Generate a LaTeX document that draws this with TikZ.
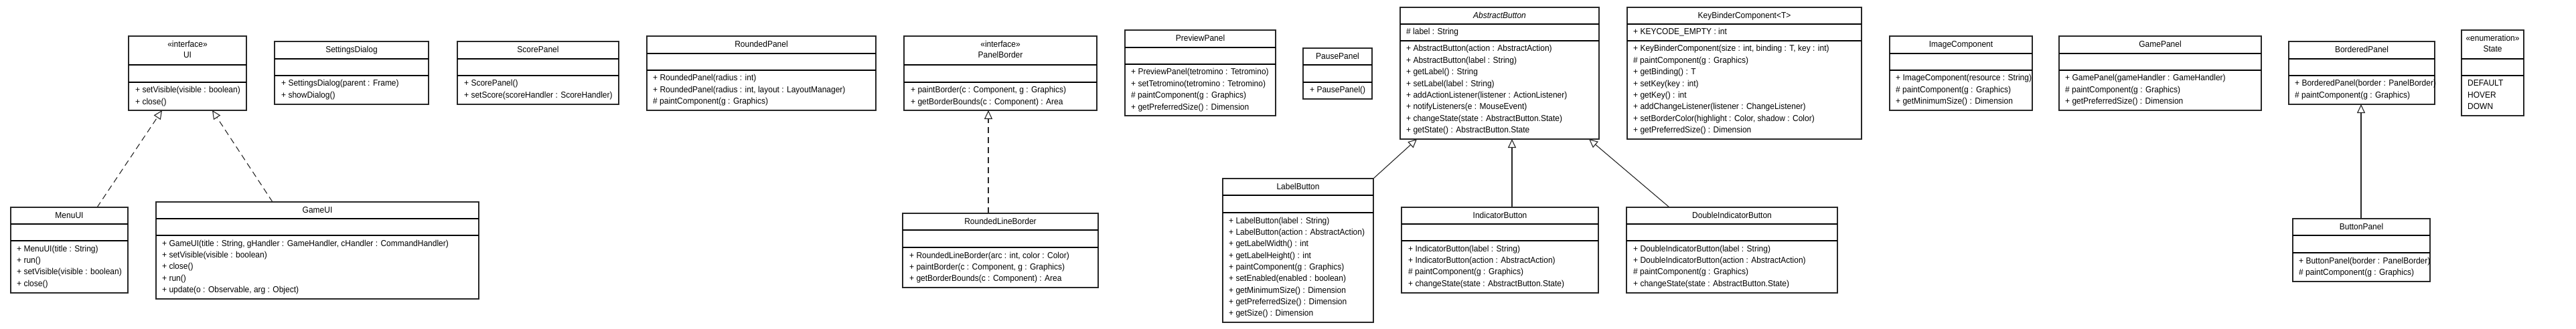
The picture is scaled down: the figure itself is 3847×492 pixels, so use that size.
\documentclass[tikz,border=0pt]{standalone}
\usepackage{fontspec}
\setmainfont[FakeStretch=0.93]{Liberation Sans}
\usetikzlibrary{arrows.meta,calc}
\tikzset{
  box/.style={draw=black!85, line width=1.5pt, inner sep=0pt, outer sep=0pt, fill=white},
  divl/.style={draw=black, line width=1.5pt},
  ttl/.style={font=\fontsize{12.9}{15}\selectfont, inner sep=0pt, anchor=base},
  mem/.style={font=\fontsize{12.9}{15}\selectfont, inner sep=0pt, anchor=base west},
  gen/.style={draw=black!85, line width=1.1pt, -{Triangle[open, length=13pt, width=12pt]}},
  real/.style={gen, dash pattern=on 9pt off 6pt},
}
% name, x1, y1, x2, y2, d1, d2
\newcommand\classbox[7]{%
  \node[box, minimum width={#4-#2}, minimum height={#5-#3}, anchor=north west] (#1) at (#2,#3) {};
  \draw[divl] (#2,#6) -- (#4,#6);
  \draw[divl] (#2,#7) -- (#4,#7);
}
% name, x1, x2, y1, d1, text
\newcommand\ctitle[6]{\node[ttl] (#1-t) at ({(#2+#3)/2},{(#4+#5)/2+4}) {#6};}
% name, x1, x2, y1, d1, stereo, text
\newcommand\stitle[7]{%
  \node[ttl] (#1-s) at ({(#2+#3)/2},{(#4+#5)/2-8.5+4}) {#6};
  \node[ttl] (#1-t) at ({(#2+#3)/2},{(#4+#5)/2+7.5+4}) {#7};
}
% name, x, divider y, list
\newcommand\members[4]{\foreach \s [count=\i] in {#4} {\node[mem] (#1-\i) at (#2,{#3+16+(\i-1)*17.35}) {\s};}}

\begin{document}
\begin{tikzpicture}[x=1pt,y=-1pt]
\fill[white] (0,0) rectangle (3847,492);
\useasboundingbox (0,0) rectangle (3847,492);

% UI
\classbox{ui}{192}{54}{368}{165}{97}{123}
\stitle{ui}{192}{368}{54}{97}{«interface»}{UI}
\members{ui-m}{202}{123}{{+ setVisible(visible : boolean)},{+ close()}}

% SettingsDialog
\classbox{sd}{410}{62}{640}{156}{88}{113}
\ctitle{sd}{410}{640}{62}{88}{SettingsDialog}
\members{sd-m}{420}{113}{{+ SettingsDialog(parent : Frame)},{+ showDialog()}}

% ScorePanel
\classbox{sp}{683}{62}{924}{156}{88}{113}
\ctitle{sp}{683}{924}{62}{88}{ScorePanel}
\members{sp-m}{693}{113}{{+ ScorePanel()},{+ setScore(scoreHandler : ScoreHandler)}}

% RoundedPanel
\classbox{rp}{966}{54}{1308}{165}{80}{105}
\ctitle{rp}{966}{1308}{54}{80}{RoundedPanel}
\members{rp-m}{975}{105}{{+ RoundedPanel(radius : int)},{+ RoundedPanel(radius : int, layout : LayoutManager)},{\# paintComponent(g : Graphics)}}

% PanelBorder
\classbox{pb}{1350}{54}{1638}{165}{97}{123}
\stitle{pb}{1350}{1638}{54}{97}{«interface»}{PanelBorder}
\members{pb-m}{1360}{123}{{+ paintBorder(c : Component, g : Graphics)},{+ getBorderBounds(c : Component) : Area}}

% PreviewPanel
\classbox{pvp}{1680}{45}{1905}{173}{71}{96}
\ctitle{pvp}{1680}{1905}{45}{71}{PreviewPanel}
\members{pvp-m}{1689}{96}{{+ PreviewPanel(tetromino : Tetromino)},{+ setTetromino(tetromino : Tetromino)},{\# paintComponent(g : Graphics)},{+ getPreferredSize() : Dimension}}

% PausePanel
\classbox{pp}{1946}{72}{2049}{148}{97}{123}
\ctitle{pp}{1946}{2049}{72}{97}{PausePanel}
\members{pp-m}{1956}{123}{{+ PausePanel()}}

% AbstractButton
\classbox{ab}{2091}{11}{2388}{208}{36}{61}
\ctitle{ab}{2091}{2388}{11}{36}{\itshape AbstractButton}
\members{ab-a}{2100}{36}{{\# label : String}}
\members{ab-m}{2100}{61}{{+ AbstractButton(action : AbstractAction)},{+ AbstractButton(label : String)},{+ getLabel() : String},{+ setLabel(label : String)},{+ addActionListener(listener : ActionListener)},{+ notifyListeners(e : MouseEvent)},{+ changeState(state : AbstractButton.State)},{+ getState() : AbstractButton.State}}

% KeyBinderComponent
\classbox{kb}{2430}{11}{2780}{208}{36}{61}
\ctitle{kb}{2430}{2780}{11}{36}{KeyBinderComponent<T>}
\members{kb-a}{2439}{36}{{+ KEYCODE\_EMPTY : int}}
\members{kb-m}{2439}{61}{{+ KeyBinderComponent(size : int, binding : T, key : int)},{\# paintComponent(g : Graphics)},{+ getBinding() : T},{+ setKey(key : int)},{+ getKey() : int},{+ addChangeListener(listener : ChangeListener)},{+ setBorderColor(highlight : Color, shadow : Color)},{+ getPreferredSize() : Dimension}}

% ImageComponent
\classbox{ic}{2822}{54}{3035}{165}{80}{105}
\ctitle{ic}{2822}{3035}{54}{80}{ImageComponent}
\members{ic-m}{2831}{105}{{+ ImageComponent(resource : String)},{\# paintComponent(g : Graphics)},{+ getMinimumSize() : Dimension}}

% GamePanel
\classbox{gp}{3075}{54}{3377}{165}{80}{105}
\ctitle{gp}{3075}{3377}{54}{80}{GamePanel}
\members{gp-m}{3084}{105}{{+ GamePanel(gameHandler : GameHandler)},{\# paintComponent(g : Graphics)},{+ getPreferredSize() : Dimension}}

% BorderedPanel
\classbox{bdp}{3418}{62}{3636}{156}{88}{113}
\ctitle{bdp}{3418}{3636}{62}{88}{BorderedPanel}
\members{bdp-m}{3427}{113}{{+ BorderedPanel(border : PanelBorder)},{\# paintComponent(g : Graphics)}}

% State
\classbox{st}{3676}{45}{3769}{173}{88}{113}
\stitle{st}{3676}{3769}{45}{88}{«enumeration»}{State}
\members{st-m}{3685}{113}{{DEFAULT},{HOVER},{DOWN}}

% MenuUI
\classbox{menuui}{16}{310}{191}{438}{335}{360}
\ctitle{menuui}{16}{191}{310}{335}{MenuUI}
\members{menuui-m}{25}{360}{{+ MenuUI(title : String)},{+ run()},{+ setVisible(visible : boolean)},{+ close()}}

% GameUI
\classbox{gameui}{233}{302}{715}{447}{327}{352}
\ctitle{gameui}{233}{715}{302}{327}{GameUI}
\members{gameui-m}{242}{352}{{+ GameUI(title : String, gHandler : GameHandler, cHandler : CommandHandler)},{+ setVisible(visible : boolean)},{+ close()},{+ run()},{+ update(o : Observable, arg : Object)}}

% RoundedLineBorder
\classbox{rlb}{1348}{319}{1640}{430}{344}{370}
\ctitle{rlb}{1348}{1640}{319}{344}{RoundedLineBorder}
\members{rlb-m}{1358}{370}{{+ RoundedLineBorder(arc : int, color : Color)},{+ paintBorder(c : Component, g : Graphics)},{+ getBorderBounds(c : Component) : Area}}

% LabelButton
\classbox{lb}{1826}{267}{2051}{482}{292}{318}
\ctitle{lb}{1826}{2051}{267}{292}{LabelButton}
\members{lb-m}{1835}{318}{{+ LabelButton(label : String)},{+ LabelButton(action : AbstractAction)},{+ getLabelWidth() : int},{+ getLabelHeight() : int},{+ paintComponent(g : Graphics)},{+ setEnabled(enabled : boolean)},{+ getMinimumSize() : Dimension},{+ getPreferredSize() : Dimension},{+ getSize() : Dimension}}

% IndicatorButton
\classbox{ib}{2093}{310}{2387}{438}{335}{360}
\ctitle{ib}{2093}{2387}{310}{335}{IndicatorButton}
\members{ib-m}{2103}{360}{{+ IndicatorButton(label : String)},{+ IndicatorButton(action : AbstractAction)},{\# paintComponent(g : Graphics)},{+ changeState(state : AbstractButton.State)}}

% DoubleIndicatorButton
\classbox{dib}{2429}{310}{2744}{438}{335}{360}
\ctitle{dib}{2429}{2744}{310}{335}{DoubleIndicatorButton}
\members{dib-m}{2439}{360}{{+ DoubleIndicatorButton(label : String)},{+ DoubleIndicatorButton(action : AbstractAction)},{\# paintComponent(g : Graphics)},{+ changeState(state : AbstractButton.State)}}

% ButtonPanel
\classbox{bp}{3424}{327}{3629}{421}{352}{378}
\ctitle{bp}{3424}{3629}{327}{352}{ButtonPanel}
\members{bp-m}{3433}{378}{{+ ButtonPanel(border : PanelBorder)},{\# paintComponent(g : Graphics)}}

% connectors
\draw[real] ($(menuui.north west)+(129,0)$) -- ($(ui.south west)+(50,0)$);
\draw[real] ($(gameui.north west)+(174,0)$) -- ($(ui.south west)+(125,0)$);
\draw[real] ($(rlb.north west)+(128,0)$) -- ($(pb.south west)+(126,0)$);
\draw[gen] (lb.north east) -- ($(ab.south west)+(25,0)$);
\draw[gen] ($(ib.north west)+(165,0)$) -- ($(ab.south west)+(167,0)$);
\draw[gen] ($(dib.north west)+(64,0)$) -- ($(ab.south west)+(282,0)$);
\draw[gen] ($(bp.north west)+(102,0)$) -- ($(bdp.south west)+(108,0)$);
\end{tikzpicture}
\end{document}
